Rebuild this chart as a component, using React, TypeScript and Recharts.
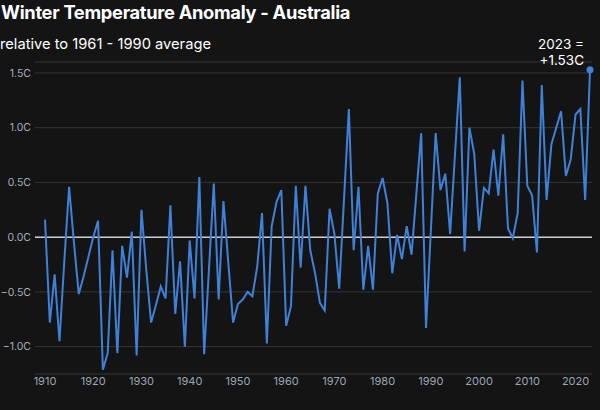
import { LineChart, Line, XAxis, YAxis, CartesianGrid, ReferenceLine, ReferenceDot } from 'recharts';

const firstYear = 1910;

// winter anomaly, deg C, 1910..2023
const anomaly = [
  0.16, -0.78, -0.34, -0.95, -0.22, 0.46, -0.05, -0.52, -0.36, -0.18,
  0.0, 0.15, -1.21, -1.06, -0.12, -1.06, -0.08, -0.37, 0.05, -1.08,
  0.25, -0.3, -0.78, -0.62, -0.45, -0.56, 0.29, -0.7, -0.22, -1.0,
  -0.03, -0.56, 0.55, -1.07, -0.29, 0.49, -0.57, 0.33, -0.23, -0.78,
  -0.61, -0.57, -0.5, -0.54, -0.27, 0.22, -0.97, 0.1, 0.32, 0.43,
  -0.81, -0.63, 0.47, -0.28, 0.47, -0.12, -0.33, -0.6, -0.67, 0.26,
  0.03, -0.47, 0.35, 1.17, -0.12, 0.46, -0.48, -0.08, -0.48, 0.4,
  0.54, 0.31, -0.33, 0.02, -0.2, 0.1, -0.16, 0.4, 0.95, -0.83,
  0.06, 0.95, 0.43, 0.58, 0.03, 0.75, 1.46, -0.13, 1.0, 0.76,
  0.06, 0.45, 0.4, 0.8, 0.38, 0.94, 0.08, -0.01, 0.22, 1.43,
  0.47, 0.38, -0.14, 1.39, 0.34, 0.85, 1.0, 1.15, 0.56, 0.71,
  1.12, 1.17, 0.34, 1.53,
];

const xTicks = [1910, 1920, 1930, 1940, 1950, 1960, 1970, 1980, 1990, 2000, 2010, 2020];
const yTicks = [-1, -0.5, 0, 0.5, 1, 1.5];

const data = anomaly.map((v, i) => ({ year: firstYear + i, value: v }));
const last = data[data.length - 1];

const fmtY = (v: number) => (v < 0 ? '\u2212' : '') + Math.abs(v).toFixed(1) + 'C';

function LastLabel(props: any) {
  const { viewBox } = props;
  const cx = viewBox.x + viewBox.width / 2;
  const cy = viewBox.y + viewBox.height / 2;
  return (
    <text x={cx - 6} textAnchor="end" fill="#ffffff" fontSize={13.5} fontFamily="Inter, sans-serif">
      <tspan x={cx - 6} y={cy - 21}>2023 =</tspan>
      <tspan x={cx - 6} y={cy - 5}>+{last.value.toFixed(2)}C</tspan>
    </text>
  );
}

export default function App() {
  const font = 'Inter, sans-serif';
  return (
    <div style={{ position: 'absolute', left: 0, top: 0, width: 600, height: 410, background: '#141414', fontFamily: font }}>
      <div style={{ position: 'absolute', left: 1, top: 0, color: '#fff', fontSize: 18.3, fontWeight: 700, lineHeight: '24px', letterSpacing: -0.3 }}>
        Winter Temperature Anomaly - Australia
      </div>
      <div style={{ position: 'absolute', left: 0, top: 34, color: '#fff', fontSize: 14.7, lineHeight: '20px' }}>
        relative to 1961 - 1990 average
      </div>
      <LineChart width={600} height={410} data={data} margin={{ top: 62, right: 8, bottom: 16, left: 0 }} style={{ position: 'absolute', left: 0, top: 0 }}>
        <CartesianGrid horizontal vertical={false} stroke="#353535" strokeWidth={1} />
        <XAxis
          dataKey="year"
          type="number"
          domain={[1910, 2023]}
          ticks={xTicks}
          height={20}
          padding={{ left: 10, right: 2 }}
          axisLine={false}
          tickLine={false}
          tickSize={2}
          tickMargin={1}
          interval={0}
          tick={{ fill: '#9ea6b3', fontSize: 11, fontFamily: font }}
        />
        <YAxis
          type="number"
          domain={[-1.25, 1.6]}
          ticks={yTicks}
          width={35}
          axisLine={false}
          tickLine={false}
          tickSize={4}
          tickMargin={0}
          tickFormatter={fmtY}
          tick={{ fill: '#a7aeba', fontSize: 10.5, fontFamily: font }}
        />
        <ReferenceLine y={0} stroke="#c8cdd6" strokeWidth={1.5} />
        <Line
          type="linear"
          dataKey="value"
          stroke="#3f80d8"
          strokeWidth={2}
          dot={false}
          activeDot={false}
          isAnimationActive={false}
        />
        <ReferenceDot x={last.year} y={last.value} r={3.5} fill="#3f80d8" stroke="none" label={<LastLabel />} />
      </LineChart>
    </div>
  );
}
